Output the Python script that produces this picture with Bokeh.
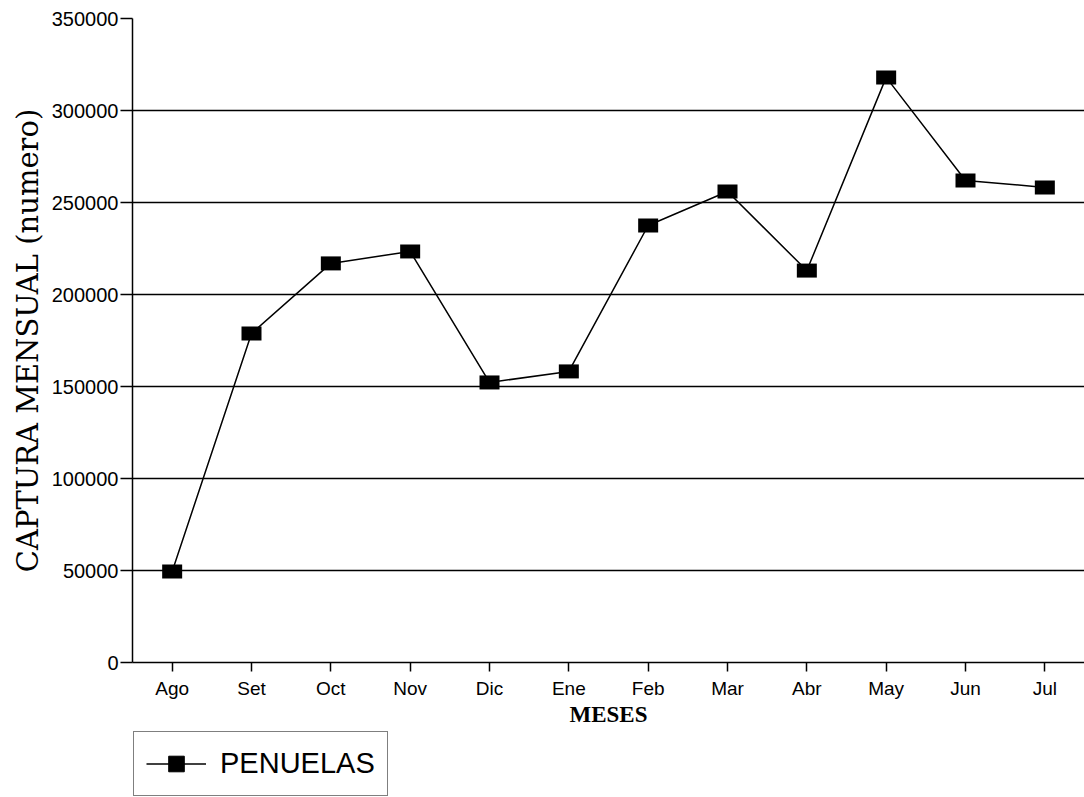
from bokeh.plotting import figure
from bokeh.layouts import column
from bokeh.models import (Range1d, FixedTicker, NumeralTickFormatter, Legend, LegendItem)
from bokeh.embed import file_html
from bokeh.resources import INLINE

months = ["Ago", "Set", "Oct", "Nov", "Dic", "Ene", "Feb", "Mar", "Abr", "May", "Jun", "Jul"]
captura = [49500, 178800, 216900, 223400, 152200, 158200, 237500, 256000, 213000, 318000, 262000, 258200]
y_ticks = [0, 50000, 100000, 150000, 200000, 250000, 300000, 350000]
series_name = "PENUELAS"
x_title = "MESES"
y_title = "CAPTURA MENSUAL (numero)"

p = figure(x_range=months, y_range=Range1d(0, 350000),
           frame_width=952, frame_height=644,
           output_backend="svg", toolbar_location=None,
           min_border_left=132, min_border_top=18, min_border_right=0, min_border_bottom=0)
p.outline_line_color = None
p.background_fill_color = "white"

ln = p.line(x=months, y=captura, line_color="black", line_width=1.5)
p.rect(x=months, y=captura, width=20, height=14, width_units="screen", height_units="screen",
       fill_color="black", line_color=None)

# grid
p.xgrid.visible = False
p.ygrid.ticker = FixedTicker(ticks=y_ticks)
p.ygrid.grid_line_color = "black"
p.ygrid.grid_line_width = 1.5

# y axis
ya = p.yaxis[0]
ya.ticker = FixedTicker(ticks=y_ticks)
ya.formatter = NumeralTickFormatter(format="0")
ya.axis_line_color = "black"
ya.axis_line_width = 1.5
ya.major_tick_out = 12
ya.major_tick_in = 0
ya.major_tick_line_width = 1.5
ya.minor_tick_line_color = None
ya.major_label_standoff = 2
ya.major_label_text_font = "Liberation Sans"
ya.major_label_text_font_size = "20px"
ya.major_label_text_color = "black"
ya.axis_label = y_title
ya.axis_label_text_font = "DejaVu Serif"
ya.axis_label_text_font_size = "29px"
ya.axis_label_text_font_style = "normal"
ya.axis_label_text_color = "black"
ya.axis_label_standoff = 4

# x axis
xa = p.xaxis[0]
xa.axis_line_color = "black"
xa.axis_line_width = 1.5
xa.major_tick_out = 9
xa.major_tick_in = 0
xa.major_tick_line_width = 1.5
xa.minor_tick_line_color = None
xa.major_label_standoff = 6
xa.major_label_text_font = "Liberation Sans"
xa.major_label_text_font_size = "19px"
xa.major_label_text_color = "black"
xa.axis_label = x_title
xa.axis_label_text_font = "Liberation Serif"
xa.axis_label_text_font_size = "23px"
xa.axis_label_text_font_style = "bold"
xa.axis_label_text_color = "black"
xa.axis_label_standoff = 0

# legend strip below the chart (its renderers hold the series, far outside its own view)
lg = figure(width=1084, height=69, x_range=Range1d(0, 1), y_range=Range1d(0, 1),
            output_backend="svg", toolbar_location=None,
            x_axis_location=None, y_axis_location=None,
            min_border_left=0, min_border_right=0, min_border_top=0, min_border_bottom=0)
lg.outline_line_color = None
lg.grid.visible = False
idx = list(range(len(months)))
lg_line = lg.line(x=idx, y=captura, line_color="black", line_width=1.5)
lg_mark = lg.scatter(x=idx, y=captura, marker="square", size=16, fill_color="black", line_color="black")

legend = Legend(items=[LegendItem(label=series_name, renderers=[lg_line, lg_mark])],
                location=(1, 2), orientation="vertical",
                border_line_color="black", border_line_width=1.5,
                background_fill_color="white", background_fill_alpha=1.0,
                padding=12, margin=0, spacing=0,
                glyph_width=60, glyph_height=39,
                label_text_font="Liberation Sans", label_text_font_size="29px",
                label_text_color="black", label_standoff=14, label_width=150)
lg.add_layout(legend, "center")

layout = column(p, lg, spacing=0)
open("out.html", "w").write(file_html(layout, INLINE))
